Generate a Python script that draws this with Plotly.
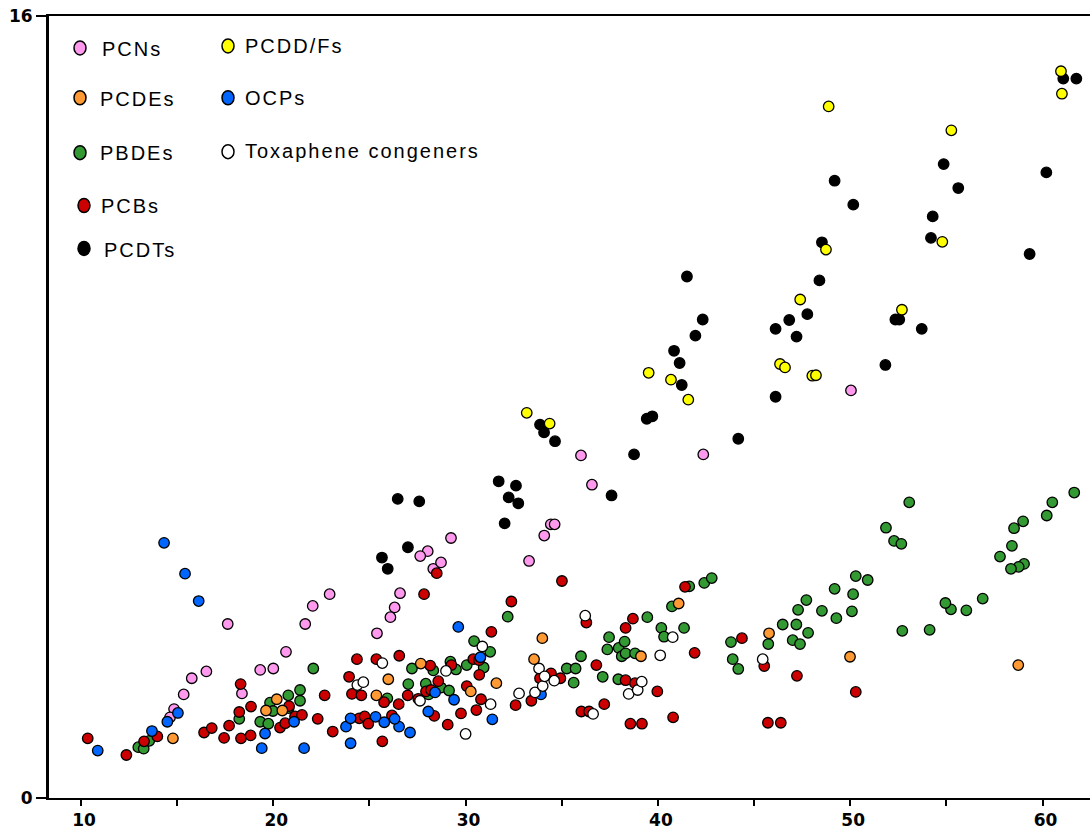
import plotly.graph_objects as go

# ---------------- data ----------------
pcn_x = [17.63, 15.76, 16.52, 15.34, 14.84, 14.63, 18.37, 19.32, 20.00, 20.66, 21.66, 22.05, 22.93, 25.39,
         26.59, 26.31, 26.09, 28.32, 28.72, 33.30, 36.00, 42.36, 36.57, 34.43, 34.63, 34.09, 29.24, 28.03,
         27.64, 50.04]
pcn_y = [3.56, 2.45, 2.59, 2.12, 1.82, 1.65, 2.14, 2.62, 2.65, 2.99, 3.56, 3.93, 4.17, 3.37,
         4.19, 3.90, 3.70, 4.69, 4.82, 4.85, 7.01, 7.03, 6.41, 5.60, 5.60, 5.37, 5.32, 5.05,
         4.95, 8.34]

pcde_x = [14.78, 19.62, 20.18, 20.47, 25.36, 27.67, 25.98, 30.27, 31.60, 33.99, 33.56, 41.08, 39.12,
          45.78, 49.99, 58.74]
pcde_y = [1.22, 1.79, 2.02, 1.79, 2.10, 2.75, 2.43, 2.18, 2.35, 3.27, 2.84, 3.98, 2.90,
          3.37, 2.89, 2.72]

pbde_x = [12.98, 13.26, 13.55, 18.23, 19.32, 19.74, 19.83, 19.98, 20.78, 20.80, 21.39, 21.39, 22.08,
          32.19, 30.44, 31.28, 30.94, 30.06, 29.50, 29.21, 28.32, 27.21, 27.02, 27.93, 28.72, 29.14,
          28.08, 25.93, 35.26, 35.72, 35.62, 36.00, 37.13, 37.37, 37.46, 37.96, 38.27, 38.12, 38.32,
          38.81, 37.94, 39.45, 40.18, 40.32, 41.36, 40.73, 41.63, 42.41, 42.80, 53.07, 51.86, 52.28,
          52.66, 61.65, 60.51, 60.22, 58.99, 58.52, 58.41, 57.79, 59.04, 58.76, 58.36, 56.89, 56.04,
          55.24, 54.95, 54.13, 52.71, 50.91, 50.29, 50.15, 50.09, 49.19, 49.28, 48.53, 47.72, 47.29,
          47.20, 47.81, 46.49, 47.01, 47.39, 45.74, 43.80, 43.89, 44.18]
pbde_y = [1.04, 1.01, 1.17, 1.62, 1.56, 1.52, 1.95, 1.78, 2.10, 1.84, 2.21, 1.99, 2.65,
          3.71, 3.21, 2.99, 2.67, 2.72, 2.63, 2.79, 2.61, 2.65, 2.33, 2.34, 2.26, 2.20,
          2.12, 2.04, 2.65, 2.65, 2.36, 2.90, 2.48, 3.04, 3.29, 3.07, 3.20, 2.90, 2.96,
          2.96, 2.43, 3.70, 3.48, 3.30, 3.48, 3.92, 4.33, 4.40, 4.50, 6.05, 5.53, 5.26,
          5.20, 6.25, 6.05, 5.78, 5.66, 5.52, 5.16, 4.94, 4.79, 4.73, 4.69, 4.08, 3.84,
          3.86, 3.99, 3.44, 3.42, 4.46, 4.54, 4.17, 3.82, 4.28, 3.68, 3.83, 4.05, 3.85,
          3.55, 3.38, 3.55, 3.23, 3.15, 3.15, 3.19, 2.84, 2.64]

pcb_x = [10.35, 12.36, 13.28, 13.97, 16.40, 16.80, 17.44, 17.70, 18.30, 18.23, 18.32, 18.82, 18.84,
         20.35, 20.62, 20.82, 21.13, 21.49, 22.31, 22.67, 23.09, 23.94, 24.09, 24.35, 24.58, 24.47,
         24.75, 24.94, 25.36, 28.50, 27.84, 35.01, 32.38, 31.34, 26.55, 28.16, 29.26, 30.40, 30.70,
         30.71, 28.58, 27.94, 28.20, 26.99, 25.76, 26.52, 27.54, 30.06, 30.80, 30.56, 29.76, 28.37,
         29.07, 26.17, 25.67, 32.60, 33.42, 33.87, 34.44, 34.93, 36.28, 36.80, 37.21, 36.02, 36.42,
         38.32, 38.70, 38.32, 38.81, 38.57, 39.17, 39.97, 40.79, 41.91, 41.41, 44.37, 45.53, 47.23,
         50.29, 45.72, 46.39]
pcb_y = [1.22, 0.88, 1.16, 1.26, 1.34, 1.43, 1.23, 1.48, 2.33, 1.76, 1.22, 1.28, 1.87,
         1.44, 1.53, 1.88, 1.67, 1.70, 1.62, 2.10, 1.36, 2.48, 2.13, 2.84, 2.10, 1.63,
         1.67, 1.52, 2.84, 4.60, 4.17, 4.44, 4.02, 3.40, 2.91, 2.71, 2.72, 2.84, 2.82,
         2.52, 2.39, 2.18, 2.21, 2.10, 1.96, 1.92, 2.03, 2.29, 2.02, 1.80, 1.73, 1.68,
         1.50, 1.69, 1.16, 1.90, 1.99, 2.45, 2.55, 2.45, 3.59, 2.72, 1.92, 1.77, 1.77,
         3.48, 3.67, 2.41, 2.35, 1.52, 1.52, 2.18, 1.65, 2.97, 4.32, 3.27, 2.70, 2.50,
         2.17, 1.54, 1.54]

ocp_x = [15.41, 16.12, 10.87, 13.69, 14.49, 15.04, 19.40, 19.57, 21.08, 21.60, 23.78, 24.02, 24.02,
         25.32, 29.62, 30.77, 28.41, 29.40, 28.06, 31.39, 27.11, 26.54, 26.31, 25.77, 33.92, 14.32]
ocp_y = [4.59, 4.03, 0.97, 1.37, 1.56, 1.74, 1.02, 1.32, 1.56, 1.02, 1.46, 1.63, 1.12,
         1.66, 3.50, 2.88, 2.16, 2.01, 1.77, 1.61, 1.34, 1.46, 1.62, 1.55, 2.12, 5.22]

tox_x = [24.37, 24.68, 30.87, 25.67, 28.98, 27.63, 31.30, 30.00, 32.78, 33.61, 34.01, 33.82, 34.11,
         34.61, 36.22, 36.63, 38.48, 38.95, 39.16, 40.12, 40.77, 45.45]
tox_y = [2.31, 2.37, 3.10, 2.76, 2.60, 1.99, 1.92, 1.31, 2.14, 2.16, 2.29, 2.65, 2.49,
         2.40, 3.73, 1.72, 2.13, 2.21, 2.38, 2.92, 3.29, 2.84]

pcdt_x = [41.24, 39.71, 39.42, 33.87, 34.08, 34.65, 38.76, 31.72, 32.62, 32.24, 32.74, 32.03, 37.59,
          26.47, 27.59, 27.00, 25.65, 25.95, 61.08, 61.76, 54.86, 55.62, 60.20, 50.16, 54.29, 54.20,
          59.33, 49.19, 48.53, 48.40, 47.77, 46.83, 46.12, 47.21, 46.12, 41.51, 42.33, 41.95, 40.84,
          41.13, 52.35, 52.55, 53.72, 51.83, 44.18]
pcdt_y = [8.45, 7.81, 7.76, 7.64, 7.48, 7.30, 7.03, 6.48, 6.39, 6.15, 6.03, 5.62, 6.19,
          6.12, 6.07, 5.13, 4.92, 4.69, 14.72, 14.72, 12.97, 12.48, 12.80, 12.14, 11.90, 11.46,
          11.13, 12.63, 11.37, 10.59, 9.90, 9.78, 9.60, 9.44, 8.21, 10.67, 9.79, 9.46, 9.15,
          8.90, 9.79, 9.79, 9.60, 8.86, 7.35]

pcddf_x = [40.68, 41.58, 33.18, 34.37, 60.96, 61.01, 55.26, 54.79, 48.88, 48.74, 47.40, 46.35, 46.61,
           48.03, 48.22, 39.52, 52.69]
pcddf_y = [8.56, 8.15, 7.88, 7.66, 14.87, 14.41, 13.66, 11.38, 14.15, 11.22, 10.20, 8.88, 8.81,
           8.64, 8.65, 8.70, 9.99]

x_tickvals = [10, 15, 20, 25, 30, 35, 40, 45, 50, 55, 60]
x_ticktext = ["10", "", "20", "", "30", "", "40", "", "50", "", "60"]
y_tickvals = [0, 16]
y_ticktext = ["0", "16"]

# ---------------- figure ----------------
W, H = 1090, 830
ML, MR, MT, MB = 49, 0, 16, 30
PW, PH = W - ML - MR, H - MT - MB

series = [
    ("PCNs", pcn_x, pcn_y, "#FF99EE"),
    ("PBDEs", pbde_x, pbde_y, "#339933"),
    ("PCBs", pcb_x, pcb_y, "#CC0000"),
    ("PCDEs", pcde_x, pcde_y, "#FF9933"),
    ("OCPs", ocp_x, ocp_y, "#0066FF"),
    ("Toxaphene congeners", tox_x, tox_y, "#FFFFFF"),
    ("PCDTs", pcdt_x, pcdt_y, "#000000"),
    ("PCDD/Fs", pcddf_x, pcddf_y, "#FFFF00"),
]
colors = {name: c for name, _, _, c in series}

fig = go.Figure()
for name, xs, ys, col in series:
    fig.add_trace(go.Scatter(
        x=xs, y=ys, mode="markers", name=name, showlegend=False,
        marker=dict(symbol="circle", size=10.5, color=col,
                    line=dict(color="#000000", width=1.3)),
        cliponaxis=False,
    ))

# hand-placed legend (pixel positions of the reference)
legend_items = [
    ("PCNs", 80, 48, 102, 49),
    ("PCDEs", 80, 98, 100, 99),
    ("PBDEs", 80, 153, 100, 153),
    ("PCBs", 84, 206, 101, 206),
    ("PCDTs", 84, 249, 104, 251),
    ("PCDD/Fs", 228, 46, 245, 46),
    ("OCPs", 228, 98, 245, 98),
    ("Toxaphene congeners", 228, 152, 245, 151),
]

def px2paper_x(px):
    return (px - ML) / PW

def py2paper_y(py):
    return (H - MB - py) / PH

shapes = []
annotations = []
for name, mx, my, tx, ty in legend_items:
    shapes.append(dict(
        type="circle", xref="paper", yref="paper",
        xsizemode="pixel", ysizemode="pixel",
        xanchor=px2paper_x(mx), yanchor=py2paper_y(my),
        x0=-6, x1=6, y0=-7, y1=7,
        fillcolor=colors[name], line=dict(color="#000000", width=1.5),
        layer="above",
    ))
    annotations.append(dict(
        xref="paper", yref="paper", x=px2paper_x(tx - 2), y=py2paper_y(ty),
        xanchor="left", yanchor="middle", showarrow=False,
        text='<span style="letter-spacing:2px">' + name + '</span>',
        font=dict(family="Liberation Sans, Arial, sans-serif", size=20, color="#000000"),
    ))

tick_font = dict(family="DejaVu Sans, Verdana, sans-serif", size=17, color="#000000", weight="bold")

fig.update_layout(
    width=W, height=H,
    margin=dict(l=ML, r=MR, t=MT, b=MB, pad=0),
    paper_bgcolor="#FFFFFF", plot_bgcolor="#FFFFFF",
    showlegend=False,
    shapes=shapes, annotations=annotations,
    xaxis=dict(
        range=[8.336, 62.47], tickvals=x_tickvals, ticktext=x_ticktext,
        showgrid=False, zeroline=False,
        showline=True, linecolor="#000000", linewidth=2, mirror=True,
        ticks="outside", ticklen=6, tickwidth=2, tickcolor="#000000",
        tickfont=tick_font, ticklabelshift=3,
    ),
    yaxis=dict(
        range=[0, 16], tickvals=y_tickvals, ticktext=y_ticktext,
        showgrid=False, zeroline=False,
        showline=True, linecolor="#000000", linewidth=3,
        ticks="outside", ticklen=10, tickwidth=2, tickcolor="#000000",
        tickfont=tick_font,
    ),
)

fig.write_html("out.html")
